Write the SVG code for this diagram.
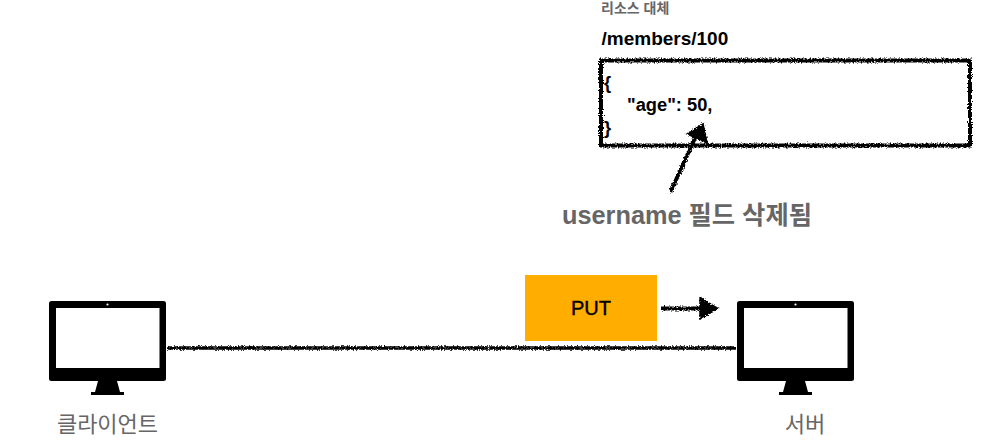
<svg xmlns="http://www.w3.org/2000/svg" width="981" height="443" viewBox="0 0 981 443">
<style>
text{font-family:"Liberation Sans","Noto Sans CJK KR",sans-serif}
.sk{fill:none;stroke:#000;filter:url(#rough)}
.b{font-weight:700;fill:#000;font-size:18.300px}
.scr{fill:#fff}
.lab{font-size:22px;fill:#666;text-anchor:middle}
</style>
<defs>
<filter id="rough" x="0" y="0" width="981" height="443" filterUnits="userSpaceOnUse" primitiveUnits="userSpaceOnUse">
<feTurbulence type="fractalNoise" baseFrequency="0.7" numOctaves="2" seed="4" result="n"/>
<feDisplacementMap in="SourceGraphic" in2="n" scale="4.500" xChannelSelector="R" yChannelSelector="G"/>
</filter>
<g id="monitor">
<rect x="0" y="0" width="117" height="80" rx="2.500" fill="#000"/>
<rect class="scr" x="7" y="7" width="103.500" height="60"/>
<circle cx="58.500" cy="3.500" r="1.100" fill="#fff"/>
<path d="M49 80H68L71 91H75V94H42V91H46Z" fill="#000"/>
</g>
</defs>
<g id="connectors">
<path class="sk" d="M167 348H736" stroke-width="3.600"/>
<path class="sk" d="M661 308.500H702" stroke-width="4.200"/>
<path d="M700 298L718 308.500L700 319Z" fill="#000" stroke="#000" stroke-width="1.500" filter="url(#rough)"/>
<path class="sk" d="M670.500 192L695 138" stroke-width="4"/>
<path d="M703 124L707 143L687 134Z" fill="#000" stroke="#000" stroke-width="1.500" filter="url(#rough)"/>
</g>
<g id="resource-title">
<text x="601" y="13" font-size="14" font-weight="700" fill="#666">리소스 대체</text>
</g>
<g id="path-label">
<text x="601.500" y="45" class="b" style="font-size:19px">/members/100</text>
</g>
<g id="json-box">
<rect class="sk" x="601" y="60.500" width="369" height="85" stroke-width="4"/>
<text x="604" y="89" class="b">{</text>
<text x="627" y="111" class="b">"age": 50,</text>
<text x="604" y="134" class="b">}</text>
</g>
<g id="note">
<text x="562" y="224" font-size="25.300" font-weight="700" fill="#666">username 필드 삭제됨</text>
</g>
<g id="put">
<rect x="525" y="275" width="132" height="66" fill="#ffae00"/>
<text x="591" y="315" font-size="20" fill="#000" text-anchor="middle" style="stroke:#000;stroke-width:.4">PUT</text>
</g>
<g id="client">
<use href="#monitor" x="49" y="301"/>
<text x="107.500" y="432" class="lab">클라이언트</text>
</g>
<g id="server">
<use href="#monitor" x="737" y="301"/>
<text x="805" y="432" class="lab">서버</text>
</g>
</svg>
